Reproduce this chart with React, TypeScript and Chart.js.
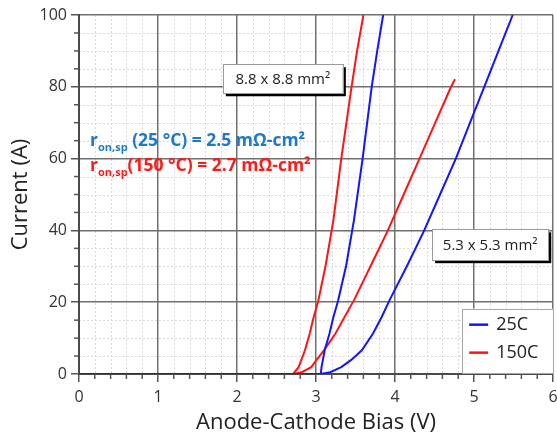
import React, { useEffect, useRef } from 'react';
import { Chart, registerables } from 'chart.js';
Chart.register(...registerables);

// ---- data (V, A) ----
const blue88V = [0, 3.06, 3.07, 3.11, 3.17, 3.22, 3.28, 3.38, 3.48, 3.59, 3.705, 3.775, 3.85];
const blue88I = [0, 0, 1.9, 6.6, 11.2, 15.8, 20.5, 30, 42.8, 60, 80, 90, 100];

const blue53V = [0, 3.06, 3.18, 3.32, 3.45, 3.58, 3.72, 3.83, 3.93, 4.15, 4.37, 4.57, 4.77, 4.95, 5.13, 5.31, 5.49];
const blue53I = [0, 0, 0.5, 1.9, 4, 6.6, 11.2, 15.8, 20.5, 30, 40, 50, 60, 70, 80, 90, 100];

const red88V = [0, 2.71, 2.78, 2.86, 2.92, 2.97, 3.03, 3.12, 3.22, 3.32, 3.45, 3.52, 3.6];
const red88I = [0, 0, 1.9, 6.6, 11.2, 15.8, 20.5, 30, 42.8, 60, 80, 90, 100];

const red53V = [0, 2.72, 2.82, 2.94, 3.01, 3.1, 3.245, 3.36, 3.48, 3.69, 3.91, 4.11, 4.31, 4.51, 4.71, 4.76];
const red53I = [0, 0, 0.5, 1.9, 4, 6.6, 11.2, 15.8, 20.5, 30, 40, 50, 60, 70, 80, 82.1];

const seriesLabels = ['25C', '150C'];
const seriesColors = ['#1414ff', '#ff1414'];

const xTitle = 'Anode-Cathode Bias (V)';
const yTitle = 'Current (A)';
const boxLabels = ['8.8 x 8.8 mm²', '5.3 x 5.3 mm²'];
const ronLines = [' (25 °C) = 2.5 mΩ-cm²', '(150 °C) = 2.7 mΩ-cm²'];
const ronColors = ['#1f78c8', '#ff1a1a'];

const FONT = '"Open Sans", "DejaVu Sans", sans-serif';

const pts = (xs: number[], ys: number[]) => xs.map((x, i) => ({ x, y: ys[i] }));
const isMajorX = (v: number) => Math.abs(v - Math.round(v)) < 1e-6;
const isMajorY = (v: number) => Math.abs(v / 20 - Math.round(v / 20)) < 1e-6;

const minorGrid = {
  id: 'minorGrid',
  beforeDraw(chart: any) {
    const { ctx, chartArea: a, scales } = chart;
    ctx.save();
    ctx.strokeStyle = '#dadada';
    ctx.lineWidth = 1;
    ctx.setLineDash([2, 2]);
    scales.x.ticks.forEach((t: any) => {
      if (isMajorX(t.value)) return;
      const px = Math.round(scales.x.getPixelForValue(t.value)) + 0.5;
      ctx.beginPath();
      ctx.moveTo(px, a.top);
      ctx.lineTo(px, a.bottom);
      ctx.stroke();
    });
    scales.y.ticks.forEach((t: any) => {
      if (isMajorY(t.value)) return;
      const py = Math.round(scales.y.getPixelForValue(t.value)) + 0.5;
      ctx.beginPath();
      ctx.moveTo(a.left, py);
      ctx.lineTo(a.right, py);
      ctx.stroke();
    });
    ctx.restore();
  },
  afterDraw(chart: any) {
    const { ctx, chartArea: a, scales } = chart;
    ctx.save();
    ctx.strokeStyle = '#555';
    ctx.lineWidth = 1.5;
    scales.x.ticks.forEach((t: any) => {
      if (isMajorX(t.value)) return;
      const px = scales.x.getPixelForValue(t.value);
      ctx.beginPath();
      ctx.moveTo(px, a.bottom);
      ctx.lineTo(px, a.bottom + 5);
      ctx.stroke();
    });
    scales.y.ticks.forEach((t: any) => {
      if (isMajorY(t.value)) return;
      const py = scales.y.getPixelForValue(t.value);
      ctx.beginPath();
      ctx.moveTo(a.left - 5, py);
      ctx.lineTo(a.left, py);
      ctx.stroke();
    });
    ctx.restore();
  },
};

const annotations = {
  id: 'annotations',
  afterDatasetsDraw(chart: any) {
    const { ctx, chartArea: a, scales } = chart;
    const X = (v: number) => scales.x.getPixelForValue(v);
    const Y = (v: number) => scales.y.getPixelForValue(v);
    ctx.save();

    // labelled boxes
    const boxes = [
      { x0: 1.82, x1: 3.34, y0: 86.3, y1: 78.2, text: boxLabels[0] },
      { x0: 4.47, x1: 5.94, y0: 40.3, y1: 31.7, text: boxLabels[1] },
    ];
    boxes.forEach((b) => {
      const l = X(b.x0), r = X(b.x1), t = Y(b.y0), btm = Y(b.y1);
      ctx.fillStyle = '#000';
      ctx.fillRect(l + 3, t + 3, r - l, btm - t);
      ctx.fillStyle = '#fff';
      ctx.fillRect(l, t, r - l, btm - t);
      ctx.strokeStyle = '#9a9a9a';
      ctx.lineWidth = 1;
      ctx.strokeRect(Math.round(l) + 0.5, Math.round(t) + 0.5, Math.round(r - l), Math.round(btm - t));
      ctx.fillStyle = '#222';
      ctx.font = `15px ${FONT}`;
      ctx.textAlign = 'center';
      ctx.textBaseline = 'middle';
      ctx.fillText(b.text, (l + r) / 2, (t + btm) / 2 + 1);
    });

    // r_on,sp lines
    ctx.textAlign = 'left';
    ctx.textBaseline = 'alphabetic';
    const baseY = [Y(63.5), Y(56.6)];
    ronLines.forEach((rest, i) => {
      let cx = X(0.14);
      const by = baseY[i];
      ctx.fillStyle = ronColors[i];
      ctx.font = `bold 17.5px ${FONT}`;
      ctx.fillText('r', cx, by);
      cx += ctx.measureText('r').width;
      ctx.font = `bold 11px ${FONT}`;
      ctx.fillText('on,sp', cx, by + 5);
      cx += ctx.measureText('on,sp').width;
      ctx.font = `bold 17.5px ${FONT}`;
      ctx.fillText(rest, cx, by);
    });

    // legend
    const ll = X(4.85), lt = Y(18.2), lr = a.right, lb = a.bottom - 1;
    ctx.fillStyle = '#fff';
    ctx.fillRect(ll, lt, lr - ll, lb - lt);
    ctx.strokeStyle = '#a8a8a8';
    ctx.lineWidth = 1;
    ctx.strokeRect(Math.round(ll) + 0.5, Math.round(lt) + 0.5, Math.round(lr - ll), Math.round(lb - lt));
    ctx.textBaseline = 'middle';
    ctx.font = `18px ${FONT}`;
    seriesLabels.forEach((lab, i) => {
      const cy = lt + 16 + i * 28;
      ctx.strokeStyle = seriesColors[i];
      ctx.lineWidth = 2.5;
      ctx.beginPath();
      ctx.moveTo(ll + 7, cy);
      ctx.lineTo(ll + 26, cy);
      ctx.stroke();
      ctx.fillStyle = '#222';
      ctx.fillText(lab, ll + 34, cy);
    });
    ctx.restore();
  },
};

export default function App() {
  const ref = useRef<HTMLCanvasElement | null>(null);
  useEffect(() => {
    if (!ref.current) return;
    const line = (label: string, color: string, data: any[]) => ({
      label,
      data,
      borderColor: color,
      backgroundColor: color,
      borderWidth: 2,
      pointRadius: 0,
      showLine: true,
      fill: false,
      tension: 0,
    });
    const chart = new Chart(ref.current, {
      type: 'scatter',
      data: {
        datasets: [
          line(seriesLabels[0], seriesColors[0], pts(blue53V, blue53I)),
          line(seriesLabels[0], seriesColors[0], pts(blue88V, blue88I)),
          line(seriesLabels[1], seriesColors[1], pts(red53V, red53I)),
          line(seriesLabels[1], seriesColors[1], pts(red88V, red88I)),
        ],
      },
      options: {
        animation: false,
        responsive: false,
        maintainAspectRatio: false,
        layout: { padding: { left: 0, right: 4, top: 15, bottom: 0 } },
        plugins: { legend: { display: false }, tooltip: { enabled: false } },
        scales: {
          x: {
            type: 'linear',
            min: 0,
            max: 6,
            afterFit: (s: any) => {
              s.height = 64;
              s.paddingRight = 0;
              s.paddingLeft = 0;
            },
            ticks: {
              stepSize: 0.2,
              maxTicksLimit: 100,
              autoSkip: false,
              maxRotation: 0,
              padding: 6,
              color: '#333',
              font: { family: FONT, size: 16 },
              callback: (v: any) => (isMajorX(v) ? String(Math.round(v)) : ''),
            },
            grid: {
              color: (c: any) => (c.tick && isMajorX(c.tick.value) ? '#707070' : 'rgba(0,0,0,0)'),
              lineWidth: 1.5,
              tickLength: 8,
              tickColor: (c: any) => (c.tick && isMajorX(c.tick.value) ? '#555' : 'rgba(0,0,0,0)'),
              tickWidth: 1.5,
            },
            border: { color: '#4a4a4a', width: 2 },
            title: {
              display: true,
              text: xTitle,
              color: '#222',
              font: { family: FONT, size: 22 },
              padding: { top: 0, bottom: 2 },
            },
          },
          y: {
            type: 'linear',
            min: 0,
            max: 100,
            afterFit: (s: any) => {
              s.width = 79;
            },
            ticks: {
              stepSize: 5,
              maxTicksLimit: 100,
              autoSkip: false,
              padding: 4,
              color: '#333',
              font: { family: FONT, size: 16 },
              callback: (v: any) => (isMajorY(v) ? String(Math.round(v)) : ''),
            },
            grid: {
              color: (c: any) => (c.tick && isMajorY(c.tick.value) ? '#707070' : 'rgba(0,0,0,0)'),
              lineWidth: 1.5,
              tickLength: 8,
              tickColor: (c: any) => (c.tick && isMajorY(c.tick.value) ? '#555' : 'rgba(0,0,0,0)'),
              tickWidth: 1.5,
            },
            border: { color: '#4a4a4a', width: 2 },
            title: {
              display: true,
              text: yTitle,
              color: '#222',
              font: { family: FONT, size: 22 },
              padding: { top: 8, bottom: 0 },
            },
          },
        },
      },
      plugins: [minorGrid, annotations],
    });
    return () => chart.destroy();
  }, []);
  return (
    <div style={{ position: 'absolute', left: 0, top: 0, width: 557, height: 438, background: '#fff' }}>
      <canvas ref={ref} width={557} height={438} style={{ display: 'block', width: 557, height: 438 }} />
    </div>
  );
}
